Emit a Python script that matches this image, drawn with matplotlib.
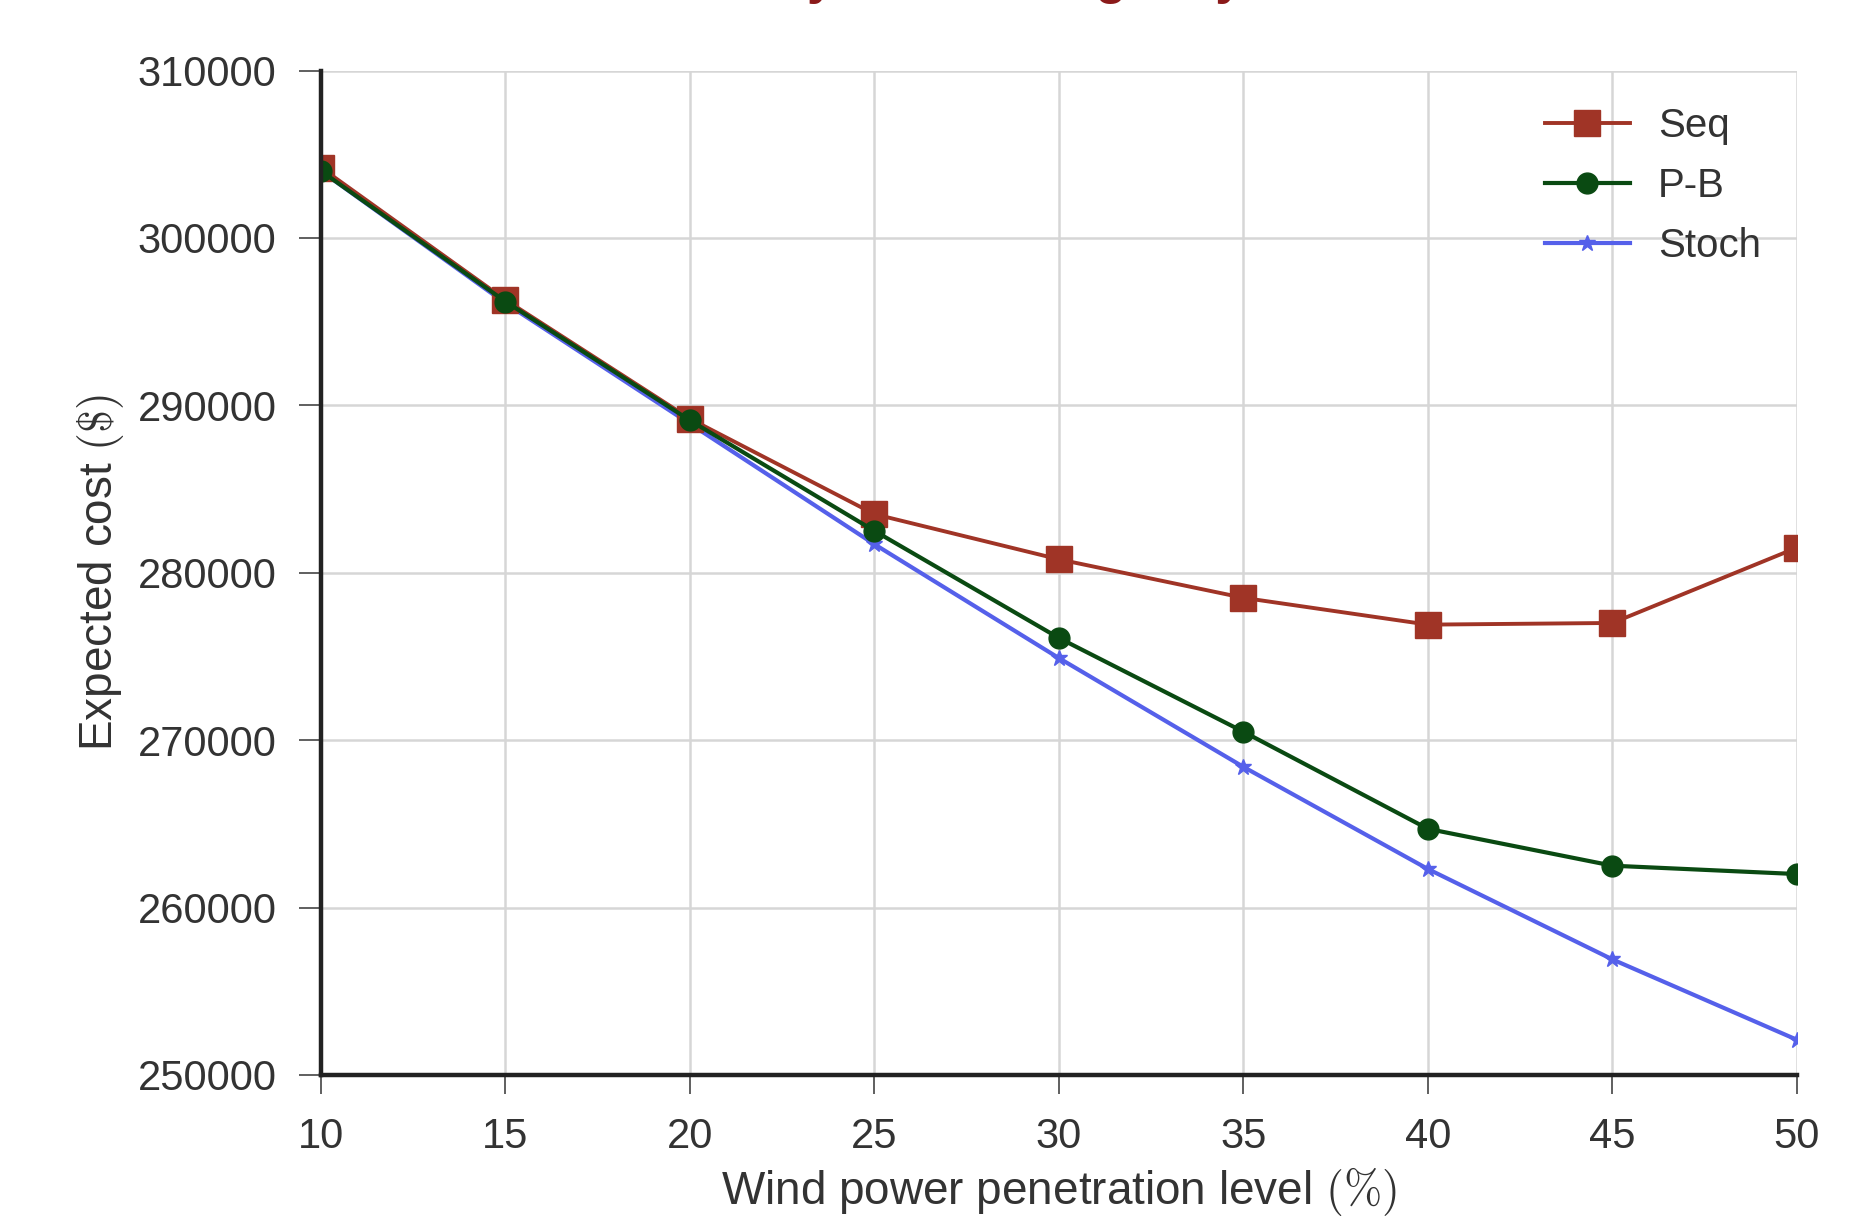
import numpy as np
import matplotlib.pyplot as plt

plt.rcParams['font.family'] = ['Liberation Sans', 'DejaVu Sans']
plt.rcParams['mathtext.fontset'] = 'cm'

# wind power penetration level (%)
levels = [10, 15, 20, 25, 30, 35, 40, 45, 50]

# expected cost ($)
seq = [304200, 296300, 289200, 283500, 280800, 278500, 276900, 277000, 281500]
pb = [304000, 296200, 289100, 282500, 276100, 270500, 264700, 262500, 262000]
stoch = [304000, 296100, 288900, 281700, 274900, 268400, 262300, 256900, 252100]

yticks = [250000, 260000, 270000, 280000, 290000, 300000, 310000]

fig = plt.figure(figsize=(18.66, 12.16), dpi=100)
ax = fig.add_axes([0.172, 0.116, 0.791, 0.826])

ax.plot(levels, seq, color='#a03426', lw=2.8, marker='s', ms=19, label='Seq', zorder=3)
ax.plot(levels, pb, color='#0a4a12', lw=3.0, marker='o', ms=15, label='P-B', zorder=4)
ax.plot(levels, stoch, color='#5560ea', lw=3.0, marker='*', ms=12, label='Stoch', zorder=2)

ax.set_xlim(10, 50)
ax.set_ylim(250000, 310000)
ax.set_xticks(levels)
ax.set_yticks(yticks)

ax.grid(True, color='#d6d6d6', lw=1.8)
ax.set_axisbelow(True)
for s in ['top', 'right']:
    ax.spines[s].set_visible(False)
for s in ['left', 'bottom']:
    ax.spines[s].set_linewidth(3.2)
    ax.spines[s].set_color('#222222')
    ax.spines[s].set_zorder(5)

ax.tick_params(axis='y', length=16, width=1.2, color='#444444', pad=16,
               labelsize=30, labelcolor='#333333')
ax.tick_params(axis='x', length=14, width=1.2, color='#444444', pad=16,
               labelsize=30, labelcolor='#333333')

ax.set_xlabel(r'Wind power penetration level $(\%)$', fontsize=33, color='#333333', labelpad=6)
ax.set_ylabel(r'Expected cost $(\$)$', fontsize=33, color='#333333', labelpad=8)

leg = ax.legend(loc='upper right', bbox_to_anchor=(1.0, 1.0), frameon=False,
                fontsize=29, handlelength=2.1, handletextpad=0.7,
                labelspacing=0.55, labelcolor='#333333')

# title clipped at the top of the original image
fig.text(0.318, 1.0055, 'Reliability for Contingency', ha='left', va='baseline',
         fontsize=37, fontweight='bold', color='#8b1a1a')

fig.savefig('out.png', dpi=100)
